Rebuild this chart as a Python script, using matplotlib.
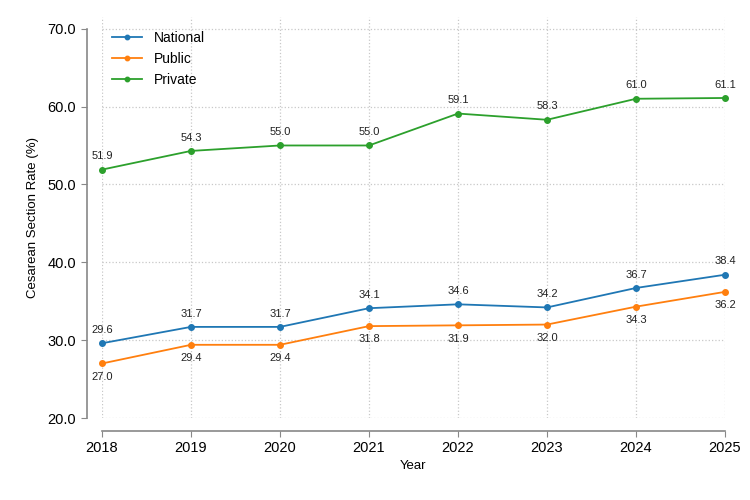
import matplotlib
matplotlib.use("Agg")
import matplotlib.pyplot as plt

plt.rcParams['font.family'] = ['Liberation Sans', 'DejaVu Sans']

years = [2018, 2019, 2020, 2021, 2022, 2023, 2024, 2025]
national = [29.6, 31.7, 31.7, 34.1, 34.6, 34.2, 36.7, 38.4]
public = [27.0, 29.4, 29.4, 31.8, 31.9, 32.0, 34.3, 36.2]
private = [51.9, 54.3, 55.0, 55.0, 59.1, 58.3, 61.0, 61.1]

series = [
    ("National", national, "#1f77b4", 1),
    ("Public", public, "#ff7f0e", -1),
    ("Private", private, "#2ca02c", 1),
]

fig = plt.figure(figsize=(7.5, 5), dpi=100)
ax = fig.add_axes([102/750, 1 - 418/500, (725 - 102)/750, (418 - 17)/500])

for name, vals, col, side in series:
    ax.plot(years, vals, color=col, marker='o', markersize=4, linewidth=1.3, label=name, clip_on=False, zorder=3)
    for x, v in zip(years, vals):
        if side > 0:
            ax.annotate(f"{v:.1f}", (x, v), xytext=(0, 6), textcoords='offset points',
                        ha='center', va='bottom', fontsize=8, color='#222222')
        else:
            ax.annotate(f"{v:.1f}", (x, v), xytext=(0, -6), textcoords='offset points',
                        ha='center', va='top', fontsize=8, color='#222222')

ax.set_xlim(2018, 2025)
ax.set_ylim(20, 71.5)
ax.set_xticks(years)
ax.set_yticks([20, 30, 40, 50, 60, 70])
ax.set_yticklabels([f"{t:.1f}" for t in [20, 30, 40, 50, 60, 70]])

ax.grid(True, linestyle=':', color='#c8c8c8', linewidth=0.9)
ax.set_axisbelow(True)

for s in ['top', 'right']:
    ax.spines[s].set_visible(False)
ax.spines['left'].set_position(('outward', 11))
ax.spines['bottom'].set_position(('outward', 9))
ax.spines['left'].set_bounds(20, 70)
ax.spines['bottom'].set_bounds(2018, 2025)
for s in ['left', 'bottom']:
    ax.spines[s].set_color('#888888')
    ax.spines[s].set_linewidth(1.2)
ax.tick_params(colors='#888888', labelcolor='black', labelsize=10.5, length=4.5, pad=3)

ax.set_xlabel("Year", fontsize=9.5, labelpad=4)
ax.set_ylabel("Cesarean Section Rate (%)", fontsize=9.5, labelpad=6)

ax.legend(loc='upper left', frameon=False, fontsize=10, handlelength=2.2,
          bbox_to_anchor=(0.0, 0.99), borderaxespad=0.3, markerscale=0.8)

fig.savefig("out.png", dpi=100)
